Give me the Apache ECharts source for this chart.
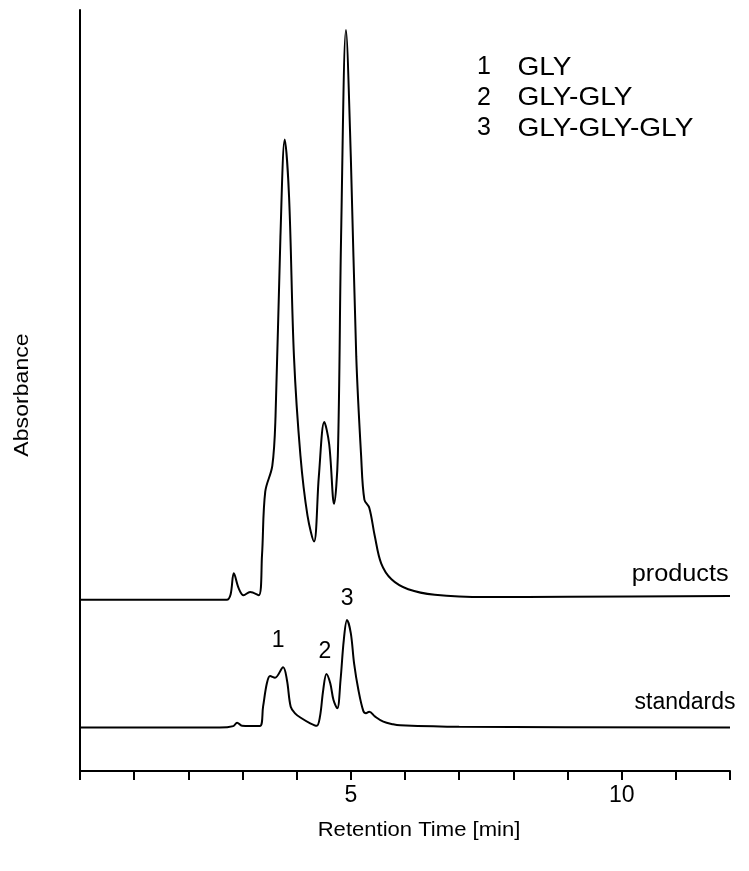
<!DOCTYPE html>
<html>
<head>
<meta charset="utf-8">
<script src="https://cdn.jsdelivr.net/npm/echarts@6/dist/echarts.min.js"></script>
<style>
html,body{margin:0;padding:0;background:#fff;}
#chart{width:749px;height:871px;}
</style>
</head>
<body>
<div id="chart"></div>
<script>
// Retention time [min] and absorbance (arbitrary units, traces offset as drawn)
const productsTime = [0, 2.71, 2.78, 2.84, 2.93, 3.02, 3.14, 3.30, 3.36, 3.42, 3.55, 3.61, 3.70, 3.78, 3.86, 3.95, 4.07, 4.20, 4.32, 4.41, 4.51, 4.60, 4.69, 4.76, 4.82, 4.91, 5.00, 5.10, 5.19, 5.25, 5.34, 5.44, 5.56, 5.75, 6.06, 6.55, 7.5, 9.0, 12.0];
const productsAbs  = [22.5, 22.5, 23.2, 25.98, 24.0, 23.10, 23.52, 23.10, 28.33, 36.70, 40.09, 46.65, 70.17, 82.98, 75.40, 54.48, 41.41, 33.56, 30.16, 38.79, 45.85, 42.97, 35.12, 41.41, 70.17, 97.37, 80.63, 54.48, 41.41, 35.65, 34.60, 30.95, 27.28, 25.19, 23.88, 23.15, 22.85, 22.9, 23.0];

const standardsTime = [0, 2.58, 2.83, 2.90, 2.99, 3.32, 3.38, 3.45, 3.51, 3.60, 3.75, 3.82, 3.89, 3.97, 4.09, 4.25, 4.37, 4.43, 4.49, 4.55, 4.62, 4.68, 4.75, 4.81, 4.87, 4.93, 5.00, 5.06, 5.14, 5.23, 5.28, 5.34, 5.45, 5.60, 5.78, 5.91, 7.0, 12.0];
const standardsAbs  = [5.7, 5.7, 5.9, 6.35, 5.95, 5.9, 8.45, 11.52, 12.48, 12.26, 13.63, 11.96, 8.45, 7.58, 6.93, 6.27, 5.95, 7.14, 10.64, 12.75, 11.52, 9.33, 8.24, 11.96, 17.21, 19.84, 18.09, 14.15, 10.64, 7.9, 7.6, 7.8, 7.14, 6.48, 6.14, 6.01, 5.8, 5.7];

const xTickLabels = {5: '5', 10: '10'};

const peakNames = ['1', '2', '3'];
const peakLabelTime = [3.66, 4.52, 4.93];
const peakLabelAbs  = [17.1, 15.7, 22.7];

const traceNames = ['products', 'standards'];
const traceLabelTime = [11.08, 11.17];
const traceLabelAbs  = [25.8, 8.94];

const legendNums = ['1', '2', '3'];
const legendNames = ['GLY', 'GLY-GLY', 'GLY-GLY-GLY'];

const zip = (a, b) => a.map((v, i) => [v, b[i]]);
const FONT = '"Liberation Sans", Arial, sans-serif';

const chart = echarts.init(document.getElementById('chart'), null, {renderer: 'canvas'});

chart.setOption({
  animation: false,
  backgroundColor: '#fff',
  grid: {left: 80, right: 19, top: 10, bottom: 100, containLabel: false},
  xAxis: {
    type: 'value', min: 0, max: 12, interval: 1,
    axisLine: {show: true, lineStyle: {color: '#000', width: 2}},
    axisTick: {show: true, length: 9, lineStyle: {color: '#000', width: 2}},
    axisLabel: {
      show: true, margin: 13, color: '#000', fontSize: 23, fontFamily: FONT,
      formatter: v => xTickLabels[v] || ''
    },
    splitLine: {show: false}
  },
  yAxis: {
    type: 'value', min: 0, max: 100,
    axisLine: {show: true, lineStyle: {color: '#000', width: 2}},
    axisTick: {show: false},
    axisLabel: {show: false},
    splitLine: {show: false}
  },
  series: [
    {
      type: 'line', name: 'products', data: zip(productsTime, productsAbs),
      showSymbol: false, smooth: 0.35, lineStyle: {color: '#000', width: 2}
    },
    {
      type: 'line', name: 'standards', data: zip(standardsTime, standardsAbs),
      showSymbol: false, smooth: 0.35, lineStyle: {color: '#000', width: 2}
    }
  ]
});

const graphics = [];
// legend block
legendNums.forEach((n, i) => {
  const y = 67.5 + i * 30.5;
  graphics.push({type: 'text', x: 484, y: y,
    style: {text: n, font: '25px ' + FONT, fill: '#000', align: 'center', verticalAlign: 'middle'}});
  graphics.push({type: 'text', x: 517.5, y: y, scaleX: 1.08,
    style: {text: legendNames[i], font: '26px ' + FONT, fill: '#000', align: 'left', verticalAlign: 'middle'}});
});
// axis titles
graphics.push({type: 'text', x: 22, y: 395, rotation: Math.PI / 2, scaleX: 1.1,
  style: {text: 'Absorbance', font: '21px ' + FONT, fill: '#000', align: 'center', verticalAlign: 'middle'}});
graphics.push({type: 'text', x: 419, y: 830, scaleX: 1.05,
  style: {text: 'Retention Time [min]', font: '21px ' + FONT, fill: '#000', align: 'center', verticalAlign: 'middle'}});
// peak numbers, positioned through the chart's scales
peakNames.forEach((n, i) => {
  const p = chart.convertToPixel({gridIndex: 0}, [peakLabelTime[i], peakLabelAbs[i]]);
  graphics.push({type: 'text', x: p[0], y: p[1],
    style: {text: n, font: '23px ' + FONT, fill: '#000', align: 'center', verticalAlign: 'middle'}});
});
// trace names
const traceScale = [1.1, 1.0];
traceNames.forEach((n, i) => {
  const p = chart.convertToPixel({gridIndex: 0}, [traceLabelTime[i], traceLabelAbs[i]]);
  graphics.push({type: 'text', x: p[0], y: p[1], scaleX: traceScale[i],
    style: {text: n, font: '23px ' + FONT, fill: '#000', align: 'center', verticalAlign: 'middle'}});
});
chart.setOption({graphic: graphics});
</script>
</body>
</html>
